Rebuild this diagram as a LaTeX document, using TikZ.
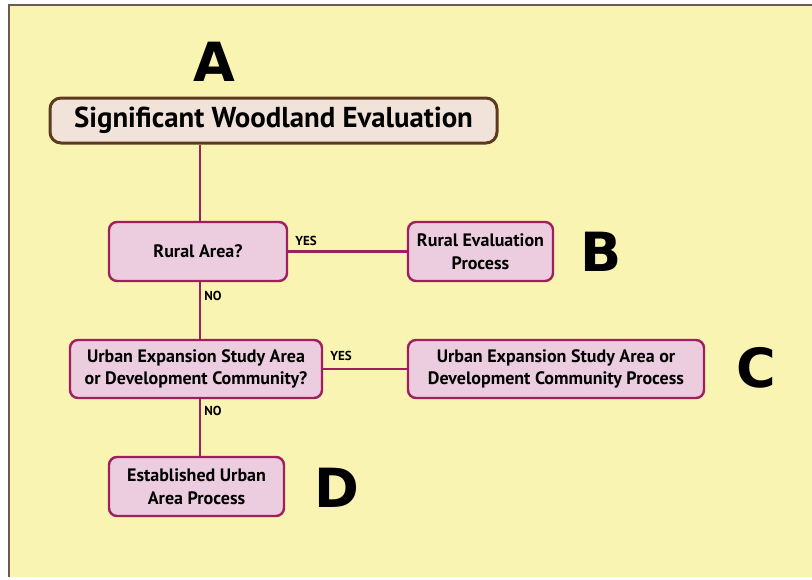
\documentclass[tikz,border=0pt]{standalone}
\usepackage{fontspec}
\setmainfont{PT Sans}
\newfontfamily\heavyfont{DejaVu Sans}
\definecolor{bgyellow}{HTML}{FAF4B2}
\definecolor{boxfill}{HTML}{ECCDE0}
\definecolor{boxline}{HTML}{9E1F5E}
\definecolor{titlefill}{HTML}{F1E3DA}
\definecolor{titleline}{HTML}{5B3A20}
\definecolor{frameline}{HTML}{6A5A50}
\begin{document}
\begin{tikzpicture}[x=1pt,y=-1pt,
  pbox/.style={draw=boxline,line width=2.4pt,fill=boxfill,rounded corners=8pt,align=center,inner sep=0pt,font=\fontsize{18}{22.5}\selectfont\bfseries},
  tbox/.style={draw=titleline,line width=3pt,fill=titlefill,rounded corners=11pt,inner sep=0pt,font=\fontsize{28.8}{32}\selectfont\bfseries},
  conn/.style={draw=boxline,line width=2.2pt},
  yn/.style={font=\fontsize{13}{15}\selectfont\bfseries,inner sep=0pt},
  biglet/.style={font=\heavyfont\fontsize{54}{58}\selectfont\bfseries,inner sep=0pt}]
\useasboundingbox (0,0) rectangle (812,579);
\fill[white] (0,0) rectangle (812,579);
\fill[bgyellow] (9,5) rectangle (812,577);
\draw[frameline,line width=1.5pt] (9,577) -- (9,5) -- (812,5);
\node[biglet] (la) at (214,62) {A};
\node[tbox,minimum width=447pt,minimum height=45pt] (title) at (273.5,120.5) {Significant Woodland Evaluation};
\node[pbox,minimum width=178pt,minimum height=59pt] (rural) at (198,251.5) {Rural Area?};
\node[pbox,minimum width=145pt,minimum height=59pt] (ruralp) at (480.5,251.5) {Rural Evaluation\\Process};
\node[biglet] (lb) at (601,252) {B};
\node[pbox,minimum width=252pt,minimum height=58pt] (urban) at (196,369) {Urban Expansion Study Area\\or Development Community?};
\node[pbox,minimum width=296pt,minimum height=58pt] (urbanp) at (556,369) {Urban Expansion Study Area or\\Development Community Process};
\node[biglet] (lc) at (756,368) {C};
\node[pbox,minimum width=175pt,minimum height=59pt] (estab) at (196.5,486.5) {Established Urban\\Area Process};
\node[biglet] (ld) at (337,488) {D};
\coordinate (t1) at (title.south -| 200,0);
\coordinate (r1) at (rural.north -| 200,0);
\coordinate (r2) at (rural.south -| 200,0);
\coordinate (u1) at (urban.north -| 200,0);
\coordinate (u2) at (urban.south -| 200,0);
\coordinate (e1) at (estab.north -| 200,0);
\draw[conn] (t1) -- (r1);
\draw[conn] (rural.east) -- (ruralp.west);
\draw[conn] (r2) -- (u1);
\draw[conn] (urban.east) -- (urbanp.west);
\draw[conn] (u2) -- (e1);
\node[yn] (yes1) at (306,241) {YES};
\node[yn] (no1) at (213,296) {NO};
\node[yn] (yes2) at (341,356) {YES};
\node[yn] (no2) at (213,411) {NO};
\end{tikzpicture}
\end{document}
